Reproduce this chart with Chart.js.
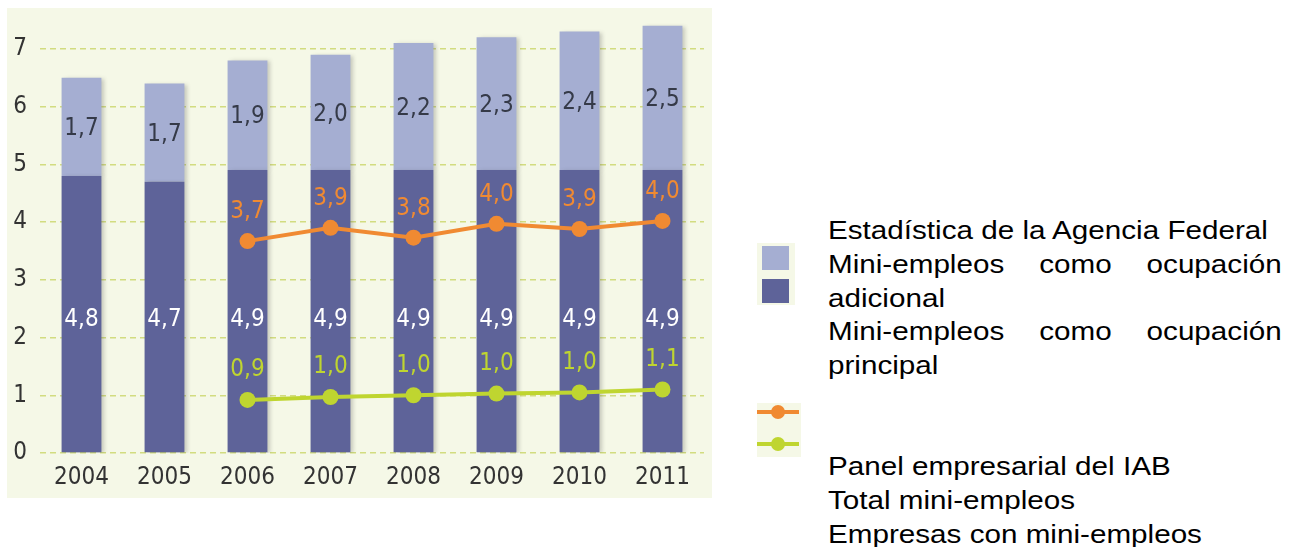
<!DOCTYPE html>
<html>
<head>
<meta charset="utf-8">
<script src="https://cdn.jsdelivr.net/npm/chart.js@4"></script>
<style>
  body { margin: 0; background: #fff; width: 1295px; height: 547px; position: relative; overflow: hidden; }
  #panel { position: absolute; left: 7px; top: 8px; width: 705px; height: 490px; background: #f5f8e7; }
  #legend { position: absolute; left: 828px; top: 214px; width: 398px; font-family: "Liberation Sans", Arial, sans-serif; font-size: 26px; line-height: 33.75px; color: #000; transform: scaleX(1.14); transform-origin: 0 0; }
  #legend .j { text-align: justify; text-align-last: justify; }
  .sw { position: absolute; background: #f5f8e7; }
  .box { position: absolute; width: 27px; height: 24px; }
  .ln { position: absolute; height: 4px; }
  .dot { position: absolute; width: 14px; height: 14px; border-radius: 50%; }
</style>
</head>
<body>
<div id="panel"><canvas id="chart" width="705" height="490"></canvas></div>

<div class="sw" style="left:757px; top:243px; width:38px; height:62px;"></div>
<div class="box" style="left:762px; top:246px; background:#a5aed2;"></div>
<div class="box" style="left:762px; top:279px; background:#5e6399;"></div>

<div class="sw" style="left:757px; top:403px; width:44px; height:54px;"></div>
<div class="ln" style="left:757px; top:410px; width:42px; background:#f08a32;"></div>
<div class="dot" style="left:771px; top:405px; background:#f08a32;"></div>
<div class="ln" style="left:757px; top:442px; width:42px; background:#bfd530;"></div>
<div class="dot" style="left:771px; top:437px; background:#bfd530;"></div>

<div id="legend">
  <div>Estadística de la Agencia Federal</div>
  <div class="j">Mini-empleos como ocupación</div>
  <div>adicional</div>
  <div class="j">Mini-empleos como ocupación</div>
  <div>principal</div>
  <div style="height:67.5px"></div>
  <div>Panel empresarial del IAB</div>
  <div>Total mini-empleos</div>
  <div>Empresas con mini-empleos</div>
</div>

<script>
const years = ['2004', '2005', '2006', '2007', '2008', '2009', '2010', '2011'];
const principal = [4.8, 4.7, 4.9, 4.9, 4.9, 4.9, 4.9, 4.9];
const adicional = [1.7, 1.7, 1.9, 2.0, 2.2, 2.3, 2.4, 2.5];
const totalIAB = [null, null, 3.67, 3.9, 3.73, 3.97, 3.88, 4.02];
const totalIABLabels = ['', '', '3,7', '3,9', '3,8', '4,0', '3,9', '4,0'];
const empresasIAB = [null, null, 0.92, 0.97, 1.0, 1.03, 1.05, 1.1];
const empresasIABLabels = ['', '', '0,9', '1,0', '1,0', '1,0', '1,0', '1,1'];
const yTicks = [0, 1, 2, 3, 4, 5, 6, 7];

const DARK = '#5e6399';
const LIGHT = '#a5aed2';
const ORANGE = '#f08a32';
const GREEN = '#bfd530';
const NARROW = '"Liberation Sans Narrow", "DejaVu Sans Condensed", "Arial Narrow", sans-serif';

function fmt(v) {
    return v.toFixed(1).replace('.', ',');
}

// sombra suave a la derecha de las barras
const barShadow = {
    id: 'barShadow',
    beforeDatasetDraw(chart, args) {
        if (args.meta.type !== 'bar') return;
        const ctx = chart.ctx;
        ctx.save();
        ctx.shadowColor = 'rgba(60,60,60,0.25)';
        ctx.shadowBlur = 4;
        ctx.shadowOffsetX = 3;
        ctx.shadowOffsetY = 1;
    },
    afterDatasetDraw(chart, args) {
        if (args.meta.type !== 'bar') return;
        chart.ctx.restore();
    }
};

// etiquetas de valores
const valueLabels = {
    id: 'valueLabels',
    afterDatasetsDraw(chart) {
        const ctx = chart.ctx;
        const y = chart.scales.y;
        ctx.save();
        ctx.font = '24px ' + NARROW;
        ctx.textAlign = 'center';
        ctx.textBaseline = 'middle';

        const mDark = chart.getDatasetMeta(0);
        const mLight = chart.getDatasetMeta(1);
        mDark.data.forEach((bar, i) => {
            ctx.fillStyle = '#ffffff';
            ctx.fillText(fmt(principal[i]), bar.x, y.getPixelForValue(2.3));
        });
        mLight.data.forEach((bar, i) => {
            ctx.fillStyle = '#353a48';
            ctx.fillText(fmt(adicional[i]), bar.x, (bar.y + bar.base) / 2 + 2);
        });

        const mOrange = chart.getDatasetMeta(2);
        mOrange.data.forEach((pt, i) => {
            if (totalIAB[i] === null) return;
            ctx.fillStyle = ORANGE;
            ctx.fillText(totalIABLabels[i], pt.x, pt.y - 29);
        });
        const mGreen = chart.getDatasetMeta(3);
        mGreen.data.forEach((pt, i) => {
            if (empresasIAB[i] === null) return;
            ctx.fillStyle = GREEN;
            ctx.fillText(empresasIABLabels[i], pt.x, pt.y - 30);
        });
        ctx.restore();
    }
};

const ctx = document.getElementById('chart').getContext('2d');
new Chart(ctx, {
    type: 'bar',
    data: {
        labels: years,
        datasets: [
            {
                label: 'Mini-empleos como ocupación principal',
                data: principal,
                backgroundColor: DARK,
                stack: 'bars',
                order: 2,
                barPercentage: 0.48,
                categoryPercentage: 1
            },
            {
                label: 'Mini-empleos como ocupación adicional',
                data: adicional,
                backgroundColor: LIGHT,
                stack: 'bars',
                order: 2,
                barPercentage: 0.48,
                categoryPercentage: 1
            },
            {
                type: 'line',
                label: 'Total mini-empleos',
                data: totalIAB,
                borderColor: ORANGE,
                backgroundColor: ORANGE,
                borderWidth: 4,
                pointRadius: 8,
                pointBorderWidth: 0,
                stack: 'orange',
                order: 0,
                spanGaps: false
            },
            {
                type: 'line',
                label: 'Empresas con mini-empleos',
                data: empresasIAB,
                borderColor: GREEN,
                backgroundColor: GREEN,
                borderWidth: 4,
                pointRadius: 8,
                pointBorderWidth: 0,
                stack: 'green',
                order: 0,
                spanGaps: false
            }
        ]
    },
    options: {
        responsive: false,
        animation: false,
        layout: { padding: { top: 12, right: 5, left: 0, bottom: 0 } },
        plugins: {
            legend: { display: false },
            tooltip: { enabled: false }
        },
        scales: {
            x: {
                stacked: true,
                grid: { display: false },
                border: { display: false },
                ticks: {
                    color: '#333333',
                    font: { family: NARROW, size: 24 },
                    padding: 2
                },
                afterFit(scale) {
                    scale.height = 45;
                    scale.paddingLeft = 0;
                    scale.paddingRight = 0;
                }
            },
            y: {
                stacked: true,
                min: 0,
                max: 7.5,
                afterBuildTicks(scale) {
                    scale.ticks = yTicks.map(v => ({ value: v }));
                },
                grid: {
                    color: '#d2dc80',
                    lineWidth: 1.5,
                    drawTicks: false
                },
                border: { display: false, dash: [6, 4] },
                ticks: {
                    color: '#333333',
                    font: { family: NARROW, size: 24 },
                    padding: 13
                },
                afterFit(scale) {
                    scale.width = 33;
                    scale.paddingTop = 0;
                    scale.paddingBottom = 0;
                }
            }
        }
    },
    plugins: [barShadow, valueLabels]
});
</script>
</body>
</html>
